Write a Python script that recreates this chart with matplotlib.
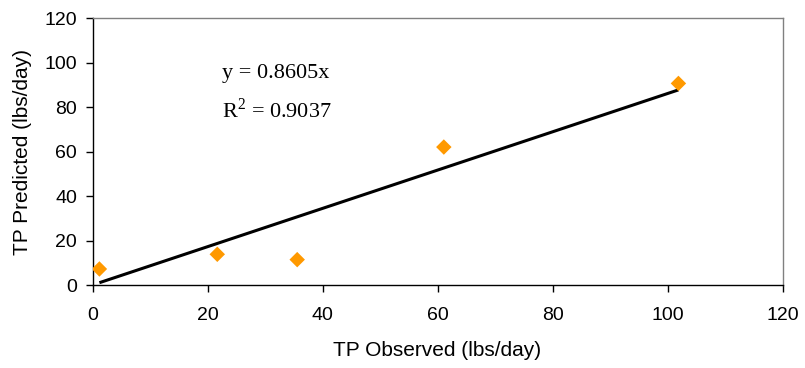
import matplotlib
matplotlib.use("Agg")
import matplotlib.pyplot as plt
import numpy as np

# Observed vs predicted total phosphorus loads
tp_observed = [1.2, 21.7, 35.6, 61.1, 101.9]
tp_predicted = [7.2, 13.8, 11.4, 62.0, 90.6]
slope = 0.8605
r_squared = 0.9037
x_ticks = [0, 20, 40, 60, 80, 100, 120]
y_ticks = [0, 20, 40, 60, 80, 100, 120]

plt.rcParams["font.family"] = ["Liberation Sans", "DejaVu Sans"]
plt.rcParams["mathtext.fontset"] = "custom"
plt.rcParams["mathtext.rm"] = "Liberation Serif"

fig = plt.figure(figsize=(8.05, 3.68), dpi=100)
ax = fig.add_axes([92.5 / 805, 1 - 285 / 368, (782.5 - 92.5) / 805, (285 - 18) / 368])

# Trendline through the origin, spanning the observed range
xs = np.array([min(tp_observed), max(tp_observed)])
ax.plot(xs, slope * xs, color="black", lw=2.2, solid_capstyle="butt", zorder=2)

ax.scatter(tp_observed, tp_predicted, marker="D", s=62, color="#FF9900",
           edgecolors="none", zorder=3)

ax.set_xlim(0, 120)
ax.set_ylim(0, 120)
ax.set_xticks(x_ticks)
ax.set_yticks(y_ticks)
ax.tick_params(direction="out", length=5, width=1, labelsize=14, color="black")
ax.tick_params(axis="x", pad=11)
ax.tick_params(axis="y", pad=6)

for side in ("left", "bottom"):
    ax.spines[side].set_color("black")
    ax.spines[side].set_linewidth(1)
for side in ("top", "right"):
    ax.spines[side].set_color("#808080")
    ax.spines[side].set_linewidth(1)

ax.set_xlabel("TP Observed (lbs/day)", fontsize=15, labelpad=12)
ax.set_ylabel("TP Predicted (lbs/day)", fontsize=15, labelpad=9)

serif = "Liberation Serif"
ax.text(22.5, 93, f"y = {slope}x", fontsize=16, family=serif, va="baseline")
ax.text(22.5, 75, r"R$^{2}$" + f" = {r_squared}", fontsize=16, family=serif,
        va="baseline")

fig.savefig("out.png", dpi=100)
